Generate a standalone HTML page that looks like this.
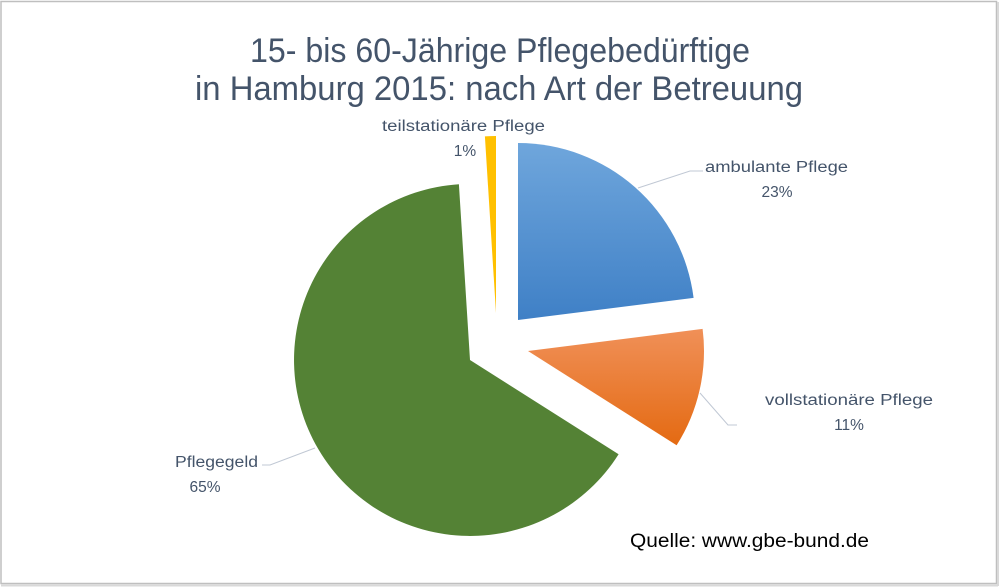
<!DOCTYPE html>
<html><head><meta charset="utf-8"><style>
html,body{margin:0;padding:0;background:#fff;}
svg{display:block;}
text{font-family:"Liberation Sans",sans-serif;}
</style></head><body>
<svg width="999" height="587" viewBox="0 0 999 587" xmlns="http://www.w3.org/2000/svg">
<defs>
<linearGradient id="gb" x1="0" y1="0" x2="0" y2="1"><stop offset="0" stop-color="#6fa6dc"/><stop offset="1" stop-color="#3f80c6"/></linearGradient>
<linearGradient id="go" x1="0" y1="0" x2="0" y2="1"><stop offset="0" stop-color="#f09058"/><stop offset="1" stop-color="#e46a12"/></linearGradient>
</defs>
<rect x="0" y="0" width="999" height="587" fill="#fff"/>
<rect x="1" y="1.5" width="995.5" height="582" fill="none" stroke="#bfbfbf" stroke-width="1.5"/>
<line x1="1" y1="585.5" x2="998" y2="585.5" stroke="#d9d9d9" stroke-width="2"/>
<line x1="998" y1="2" x2="998" y2="586" stroke="#d9d9d9" stroke-width="2"/>

<text x="500" y="62" text-anchor="middle" font-size="34" fill="#44546a" textLength="500" lengthAdjust="spacingAndGlyphs">15- bis 60-Jährige Pflegebedürftige</text>
<text x="499" y="100" text-anchor="middle" font-size="34" fill="#44546a" textLength="608" lengthAdjust="spacingAndGlyphs">in Hamburg 2015: nach Art der Betreuung</text>

<path d="M518,320 L518,143 A177,177 0 0 1 693.6,297.9 Z" fill="url(#gb)"/>
<path d="M528,351 L702.6,328.9 A176,176 0 0 1 676.6,445.3 Z" fill="url(#go)"/>
<path d="M470,360 L618.6,454.3 A176,176 0 1 1 458.9,184.3 Z" fill="#548235"/>
<path d="M496,313 L484.9,136.4 A177,177 0 0 1 496,136 Z" fill="#ffc000"/>

<polyline points="703,171 690,171 638,188" fill="none" stroke="#c0c8d4" stroke-width="1"/>
<polyline points="737,425 728,425 700,393" fill="none" stroke="#c0c8d4" stroke-width="1"/>
<polyline points="262,465 270,465 315,448" fill="none" stroke="#c0c8d4" stroke-width="1"/>

<g font-size="15.5" fill="#44546a">
<text x="705" y="172" textLength="143" lengthAdjust="spacingAndGlyphs">ambulante Pflege</text>
<text x="777" y="197" text-anchor="middle">23%</text>
<text x="765" y="405" textLength="168" lengthAdjust="spacingAndGlyphs">vollstationäre Pflege</text>
<text x="849" y="430" text-anchor="middle">11%</text>
<text x="382" y="131" textLength="163" lengthAdjust="spacingAndGlyphs">teilstationäre Pflege</text>
<text x="465" y="156" text-anchor="middle">1%</text>
<text x="175" y="467" textLength="83" lengthAdjust="spacingAndGlyphs">Pflegegeld</text>
<text x="205" y="492" text-anchor="middle">65%</text>
</g>
<text x="630" y="547" font-size="19" fill="#000" textLength="239" lengthAdjust="spacingAndGlyphs">Quelle: www.gbe-bund.de</text>
</svg>
</body></html>
